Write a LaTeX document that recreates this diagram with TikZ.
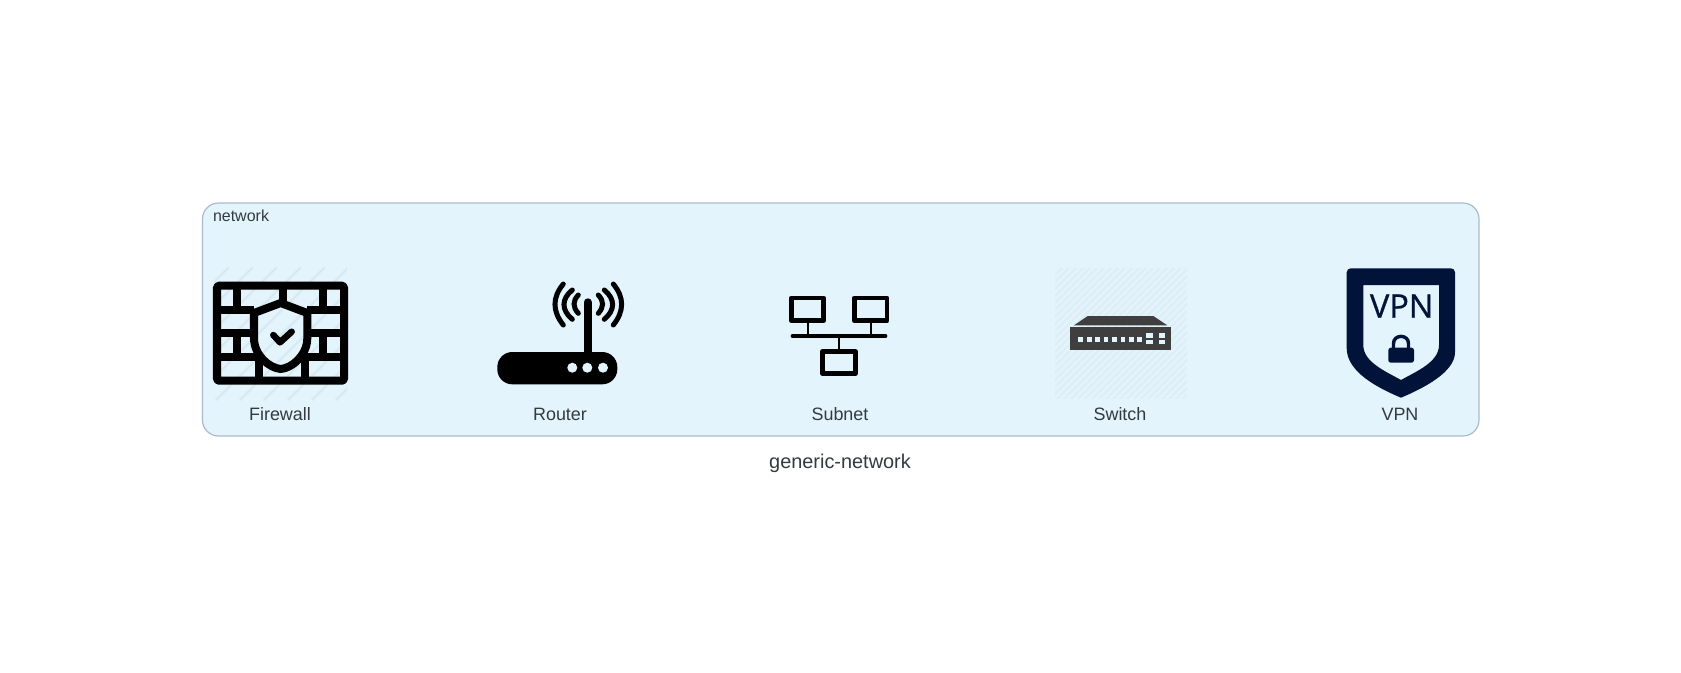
\documentclass[tikz,border=0pt]{standalone}
\usepackage{fontspec}
\setmainfont{Liberation Sans}
\newfontfamily\vpnfont[RawFeature={embolden=0.8}]{Open Sans}
\usepackage{xcolor}
\usetikzlibrary{positioning}
\definecolor{netfill}{HTML}{E3F4FC}
\definecolor{netline}{HTML}{A9BCCB}
\definecolor{labelgray}{HTML}{333A40}
\definecolor{hatchgray}{HTML}{D9E9F2}
\definecolor{switchhatch}{HTML}{DEEEF7}
\definecolor{switchgray}{HTML}{3F3F3F}
\definecolor{vpnblue}{HTML}{02133A}
\tikzset{
  netlabel/.style={anchor=base,text=labelgray,font=\fontsize{5.1}{6}\selectfont,inner sep=0pt},
  wallline/.style={line width=0.08cm,line join=round},
  waveline/.style={line width=0.05cm,line cap=round},
  subnetbox/.style={line width=0.047cm,line join=round},
  subnetstem/.style={line width=0.017cm}
}

\begin{document}
\begin{tikzpicture}[x=0.01cm,y=-0.01cm]
\useasboundingbox (0,0) rectangle (1681,672);
\draw[fill=netfill,draw=netline,line width=0.012cm,rounded corners=0.16cm] (202.5,203) rectangle (1479,436);
\node[netlabel,anchor=base west,font=\fontsize{4.55}{6}\selectfont] (netname) at (212.3,221.5) {network};

% firewall
\begin{scope}
\clip (214,267) rectangle (347,400);
\foreach \k in {-6,...,6} \draw[hatchgray,line width=0.024cm] ({216+24*\k},400) -- ({349+24*\k},267);
\end{scope}
\draw[wallline,rounded corners=0.015cm] (217,285.7) rectangle (344,380.7);
\draw[wallline] (217,309.7) -- (254,309.7) (307.3,309.7) -- (344,309.7);
\draw[wallline] (217,333) -- (254,333) (307.3,333) -- (344,333);
\draw[wallline] (217,357) -- (262,357) (300,357) -- (344,357);
\draw[wallline] (237,285.7) -- (237,309.7) (283,285.7) -- (283,303) (322.7,285.7) -- (322.7,309.7);
\draw[wallline] (237,333) -- (237,357) (322.7,333) -- (322.7,357);
\draw[wallline] (258.7,357) -- (258.7,380.7) (304.7,357) -- (304.7,380.7);
\draw[wallline] (280.7,303) -- (254,313) -- (254,338) .. controls (254,355) and (269,368) .. (280.7,369) .. controls (292.4,368) and (307.3,355) .. (307.3,338) -- (307.3,313) -- cycle;
\draw[line width=0.065cm,line cap=round,line join=round] (273.3,335) -- (280,342.3) -- (291.7,331.7);
\node[netlabel] (firewall) at (280,420) {Firewall};

% router
\fill[rounded corners=0.15cm] (497.3,352) rectangle (617.3,384.3);
\draw[line width=0.08cm,line cap=round] (587.7,353) -- (587.7,302.3);
\fill[netfill] (572.3,367.7) circle (5);
\fill[netfill] (587.3,367.7) circle (5);
\fill[netfill] (603,367.7) circle (5);
\draw[waveline] (578.3,295) .. controls (572.6,301) and (572.6,307) .. (578.3,313.3);
\draw[waveline] (572.3,290) .. controls (561.2,299) and (561.2,310) .. (572.3,319.3);
\draw[waveline] (563.3,284) .. controls (552.2,297.5) and (552.2,311) .. (563.3,325);
\draw[waveline] (598.3,295) .. controls (604,301) and (604,307) .. (598.3,313.3);
\draw[waveline] (604.3,290) .. controls (615.4,299) and (615.4,310) .. (604.3,319.3);
\draw[waveline] (613.3,284) .. controls (624.4,297.5) and (624.4,311) .. (613.3,325);
\node[netlabel] (router) at (560,420) {Router};

% subnet
\draw[subnetbox] (791.3,298) rectangle (823.7,320.7);
\draw[subnetbox] (854.3,298) rectangle (887,320.7);
\draw[subnetbox] (822.7,351.3) rectangle (855.3,373.7);
\draw[line width=0.033cm,line cap=round] (792.3,336) -- (885.7,336);
\draw[subnetstem] (807.7,322.7) -- (807.7,336);
\draw[subnetstem] (870.7,322.7) -- (870.7,336);
\draw[subnetstem] (839,336) -- (839,349.3);
\node[netlabel] (subnet) at (840,420) {Subnet};

% switch
\begin{scope}
\clip (1055,268.3) rectangle (1187,398.3);
\foreach \k in {0,...,38} \draw[switchhatch,line width=0.022cm] ({923+7*\k},400) -- ({1056+7*\k},267);
\end{scope}
\fill[switchgray] (1074,325.3) -- (1087.7,316) -- (1153.3,316) -- (1167.3,325.3) -- cycle;
\fill[switchgray] (1070,326.7) rectangle (1171.3,350);
\foreach \sx in {1080.7,1089.3,1097.7,1106,1114.7,1123,1131.3,1139.7} \fill[netfill] ({\sx-2.3},337.4) rectangle ({\sx+2.3},342);
\fill[netfill] (1146,333.3) rectangle (1152.7,337.7);
\fill[netfill] (1146,339.7) rectangle (1152.7,344);
\fill[netfill] (1158.7,333.3) rectangle (1165.3,337.7);
\fill[netfill] (1158.7,339.7) rectangle (1165.3,344);
\node[netlabel] (switch) at (1120,420) {Switch};

% vpn
\fill[vpnblue,even odd rule] (1401,397.7) .. controls (1378,388) and (1346.7,372) .. (1346.7,348.3) [rounded corners=0.04cm] -- (1346.7,268.3) -- (1455,268.3) -- (1455,348.3) [sharp corners] .. controls (1455,372) and (1424,388) .. (1401,397.7) -- cycle
  (1401,380) .. controls (1385,371) and (1363.3,362) .. (1363.3,345) -- (1363.3,285) -- (1439,285) -- (1439,345) .. controls (1439,362) and (1417,371) .. (1401,380) -- cycle;
\node[anchor=base,text=vpnblue,font=\vpnfont\fontsize{9.25}{11}\selectfont,inner sep=0pt] (vpnmark) at (1401.7,317.7) {VPN};
\fill[vpnblue,rounded corners=0.025cm] (1388.3,347.7) rectangle (1414,362.7);
\draw[vpnblue,line width=0.034cm] (1393.5,349) -- (1393.5,343.5) .. controls (1393.5,334) and (1408.5,334) .. (1408.5,343.5) -- (1408.5,349);
\node[netlabel] (vpn) at (1400,420) {VPN};

\node[netlabel,font=\fontsize{5.66}{7}\selectfont] (caption) at (840,468.7) {generic-network};
\end{tikzpicture}
\end{document}
